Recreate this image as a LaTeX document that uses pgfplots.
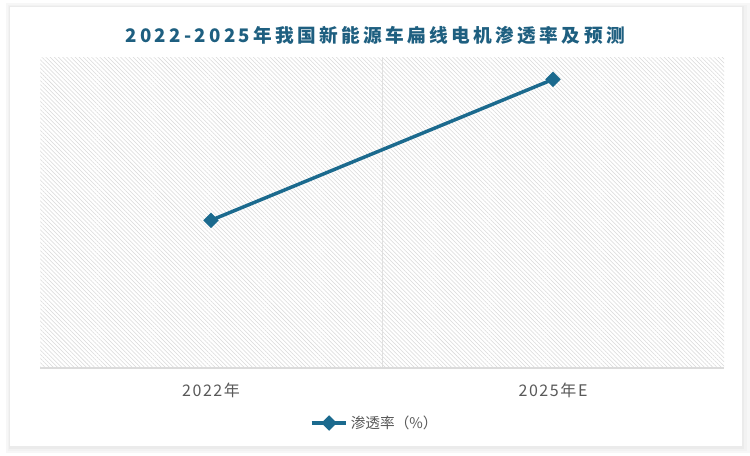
\documentclass[border=0pt]{standalone}
\usepackage{fontspec}
\setmainfont{Noto Sans CJK SC}
\newfontfamily\titlefont[LetterSpace=18]{Noto Sans CJK SC}
\newfontfamily\tickfont[LetterSpace=10]{Noto Sans CJK SC}
\usepackage{pgfplots}
\pgfplotsset{compat=1.18}
\usetikzlibrary{patterns.meta}
\definecolor{linec}{HTML}{1B6A8E}
\definecolor{titlec}{HTML}{1E5F80}
\definecolor{tickc}{HTML}{595959}
\definecolor{hatchc}{HTML}{DADADA}
\begin{document}
\begin{tikzpicture}[x=0.75pt,y=0.75pt]
\path[use as bounding box] (0,0) rectangle (750,455);
% card with soft shadow
\fill[black!3] (6,2) rectangle (750,452);
\fill[black!5] (8,4) rectangle (747,450);
\fill[black!8] (9,6) rectangle (744,449);
\fill[white] (10,9) rectangle (742,448);
\node[font=\titlefont\bfseries\fontsize{14}{16}\selectfont, text=titlec] at (375,420)
  {2022-2025年我国新能源车扁线电机渗透率及预测};
\begin{axis}[
  at={(30pt,65.25pt)}, anchor=south west,
  scale only axis, width=513pt, height=233.25pt,
  xmin=-0.5, xmax=1.5, ymin=0, ymax=100,
  axis x line=bottom, axis y line=none,
  axis line style={-, draw=black!14, line width=1.5pt},
  xtick={0,1}, xticklabels={2022年,2025年E},
  ytick=\empty,
  minor xtick={0.5}, minor x grid style={draw=black!12, line width=0.6pt},
  xminorgrids,
  major tick length=0pt, minor tick length=0pt,
  xticklabel style={font=\tickfont\fontsize{12}{14}\selectfont, text=tickc, anchor=center, yshift=-16.5pt},
  axis background/.style={pattern={Lines[angle=-45,distance=2.2pt,line width=0.4pt]}, pattern color=hatchc},
  legend style={at={(0.49,-0.177)}, anchor=center, draw=none, fill=none,
    font=\fontsize{11}{13}\selectfont, text=tickc},
  legend image code/.code={\draw[mark repeat=2, mark phase=2] plot coordinates {(0pt,0pt) (13pt,0pt) (26pt,0pt)};},
]
\addplot[color=linec, line width=2.6pt, mark=square*, mark size=2.8pt, mark options={rotate=45, solid}]
  coordinates {(0,47.5) (1,92.8)};
\addlegendentry{渗透率（\%）}
\end{axis}
\end{tikzpicture}
\end{document}
